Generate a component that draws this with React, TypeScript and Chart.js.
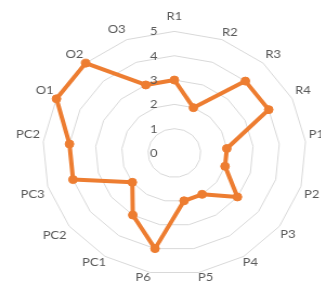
import React, { useEffect, useRef } from "react";
import { Chart, registerables } from "chart.js";

Chart.register(...registerables);

const categories = ["R1", "R2", "R3", "R4", "P1", "P2", "P3", "P4", "P5", "P6", "PC1", "PC2", "PC3", "PC2", "O1", "O2", "O3"];
const seriesValues = [3, 2, 4, 4, 2, 2, 3, 2, 2, 4, 3, 2, 4, 4, 5, 5, 3];
const tickValues = [0, 1, 2, 3, 4, 5];
const tickLabels = ["0", "1", "2", "3", "4", "5"];

// style: per-label distance from the outer ring
const labelPadding = [8, 0, 3, 3, 3, 3, 1, -2, -3, -3, -2, 3, 3, 3, 3, 3, 3];

const FONT = "Lato, 'Open Sans', sans-serif";

const tickLabelPlugin = {
  id: "tickLabelPlugin",
  afterDatasetsDraw(chart: any) {
    const scale = chart.scales.r;
    const ctx = chart.ctx;
    ctx.save();
    ctx.font = `12px ${FONT}`;
    ctx.fillStyle = "#595959";
    ctx.textAlign = "center";
    ctx.textBaseline = "middle";
    tickValues.forEach((v, i) => {
      const d = scale.getDistanceFromCenterForValue(v);
      ctx.fillText(tickLabels[i], scale.xCenter - 19, scale.yCenter - d);
    });
    ctx.restore();
  },
};

export default function App() {
  const ref = useRef<HTMLCanvasElement | null>(null);
  useEffect(() => {
    if (!ref.current) return;
    const chart = new Chart(ref.current, {
      type: "radar",
      data: {
        labels: categories,
        datasets: [
          {
            data: seriesValues,
            borderColor: "#ED7D31",
            backgroundColor: "#ED7D31",
            borderWidth: 4,
            borderJoinStyle: "round",
            pointRadius: 4,
            pointBorderWidth: 1,
            pointBackgroundColor: "#ED7D31",
            pointBorderColor: "#ED7D31",
            fill: false,
            tension: 0,
          },
        ],
      },
      options: {
        responsive: false,
        animation: false,
        plugins: { legend: { display: false }, tooltip: { enabled: false } },
        layout: { padding: 0 },
        scales: {
          r: {
            min: 0,
            max: 5,
            ticks: { display: false, stepSize: 1 },
            grid: { color: "#D9D9D9", lineWidth: 1 },
            angleLines: { display: false },
            pointLabels: {
              color: "#595959",
              font: { family: FONT, size: 12 },
              padding: (c: any) => labelPadding[c.index] ?? 3,
            },
          },
        },
      },
      plugins: [tickLabelPlugin],
    } as any);
    return () => chart.destroy();
  }, []);

  return (
    <div style={{ position: "fixed", left: 0, top: 0, width: 321, height: 287, overflow: "hidden", background: "#fff" }}>
      <div style={{ position: "absolute", left: 0, top: 0, width: 310, height: 300, transform: "scaleX(1.083)", transformOrigin: "0 0" }}>
        <canvas ref={ref} width={300} height={289} style={{ position: "absolute", left: 7, top: 2 }} />
      </div>
    </div>
  );
}
